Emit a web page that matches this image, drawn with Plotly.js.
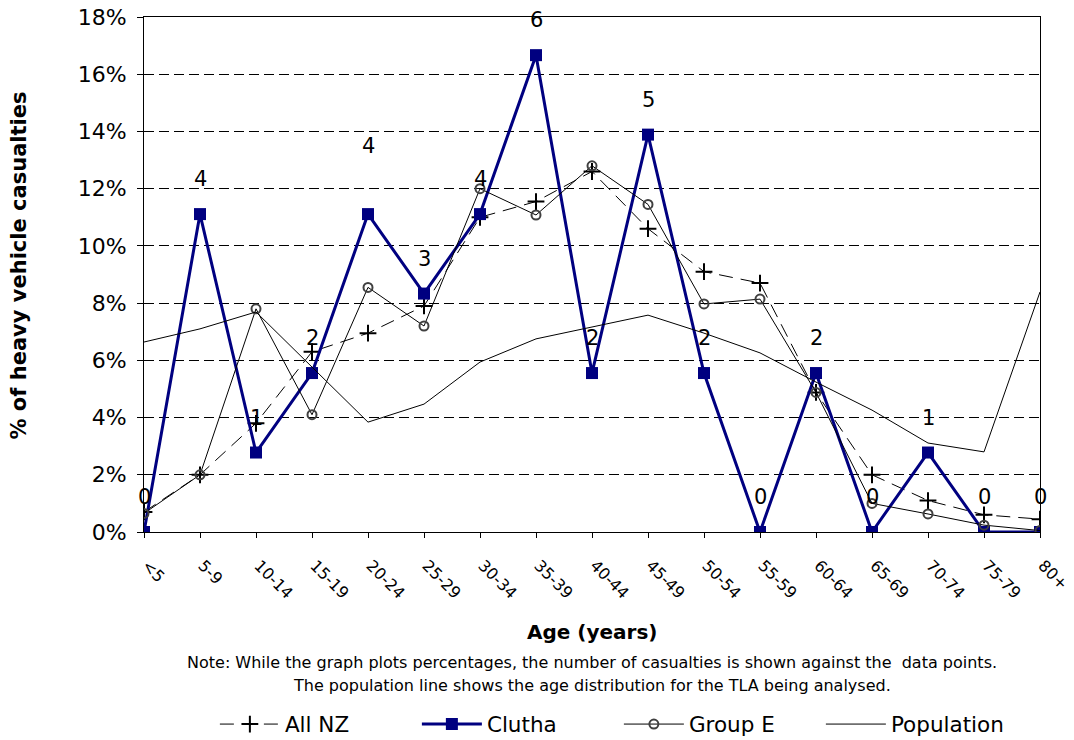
<!DOCTYPE html>
<html>
<head>
<meta charset="utf-8">
<script src="https://cdn.plot.ly/plotly-3.0.1.min.js"></script>
<style>html,body{margin:0;padding:0;background:#fff;overflow:hidden;width:1074px;height:740px;}#chart{width:1074px;height:740px;overflow:hidden;}</style>
</head>
<body>
<div id="chart"></div>
<script>
const ageGroups = ["<5","5-9","10-14","15-19","20-24","25-29","30-34","35-39","40-44","45-49","50-54","55-59","60-64","65-69","70-74","75-79","80+"];
const allNZ =      [0.007,0.020,0.038,0.063,0.0695,0.079,0.110,0.1155,0.126,0.106,0.091,0.087,0.0488,0.020,0.011,0.006,0.0045];
const cluthaCounts = [0,4,1,2,4,3,4,6,2,5,2,0,2,0,1,0,0];
const groupE =     [0.0065,0.020,0.078,0.041,0.0855,0.072,0.120,0.1108,0.128,0.1145,0.0797,0.0814,0.0488,0.010,0.0063,0.0024,0.0005];
const population = [0.0664,0.0710,0.0769,0.0577,0.0384,0.0447,0.0594,0.0675,0.0717,0.0758,0.0695,0.0626,0.0524,0.0426,0.0311,0.0280,0.0839];

const cluthaTotal = cluthaCounts.reduce((a,b)=>a+b,0);
const clutha = cluthaCounts.map(c => c / cluthaTotal);
const xIdx = ageGroups.map((_, i) => i);
const FONT = "DejaVu Sans, Arial, sans-serif";

const traces = [
  {name:"All NZ", x:xIdx, y:allNZ, mode:"lines+markers",
   line:{color:"#000", width:1, dash:"14px,8px"},
   marker:{symbol:"cross-thin", size:12, line:{color:"#000", width:2}}},
  {name:"Clutha", x:xIdx, y:clutha, mode:"lines+markers",
   line:{color:"#000080", width:3},
   marker:{symbol:"square", size:12, color:"#000080"}},
  {name:"Group E", x:xIdx, y:groupE, mode:"lines+markers",
   line:{color:"#000", width:1},
   marker:{symbol:"circle-open", size:9, color:"#404040", line:{color:"#404040", width:2}}},
  {name:"Population", x:xIdx, y:population, mode:"lines",
   line:{color:"#000", width:1}}
];

const annotations = clutha.map((v, i) => ({
  x: i, y: v, xref:"x", yref:"y", text: String(cluthaCounts[i]),
  showarrow:false, yanchor:"middle", yshift: (i === 4 ? 68 : 35),
  font:{family:FONT, size:21, color:"#000"}
}));
annotations.push({
  xref:"paper", yref:"paper", x:0.5, y:-0.253, xanchor:"center", yanchor:"middle",
  text:"Note: While the graph plots percentages, the number of casualties is shown against the  data points.",
  showarrow:false, font:{family:FONT, size:16, color:"#000"}
});
annotations.push({
  xref:"paper", yref:"paper", x:0.5, y:-0.299, xanchor:"center", yanchor:"middle",
  text:"The population line shows the age distribution for the TLA being analysed.",
  showarrow:false, font:{family:FONT, size:16, color:"#000"}
});
annotations.push({
  xref:"paper", yref:"paper", x:0.5, y:-0.194, xanchor:"center", yanchor:"middle",
  text:"<b>Age (years)</b>",
  showarrow:false, font:{family:FONT, size:20, color:"#000"}
});
annotations.push({
  xref:"paper", yref:"paper", x:0, y:0.5, xshift:-126, yshift:9, xanchor:"center", yanchor:"middle",
  text:"<b>% of heavy vehicle casualties</b>", textangle:-90,
  showarrow:false, font:{family:FONT, size:21, color:"#000"}
});

const layout = {
  width:1074, height:740,
  margin:{l:144, r:34, t:17, b:208, autoexpand:false},
  paper_bgcolor:"#fff", plot_bgcolor:"#fff",
  font:{family:FONT, color:"#000"},
  showlegend:true,
  legend:{orientation:"h", x:0.53, xanchor:"center", y:-0.373, yanchor:"middle",
          font:{size:21.5, color:"#000"}, traceorder:"normal",
          entrywidth:127, entrywidthmode:"pixels", itemwidth:60},
  xaxis:{
    range:[0,16], tickmode:"array", tickvals:xIdx, ticktext:ageGroups,
    tickangle:45, ticks:"outside", ticklen:5, tickcolor:"#000",
    ticklabelstandoff:12, ticklabelshift:3, ticklabeloverflow:"allow",
    showline:true, linecolor:"#000", linewidth:1, mirror:true,
    showgrid:false, zeroline:false, automargin:false,
    tickfont:{size:16, color:"#000"}
  },
  yaxis:{
    range:[0,0.18], dtick:0.02, tickformat:".0%",
    ticks:"outside", ticklen:6, tickcolor:"#000", ticklabelstandoff:6,
    showline:true, linecolor:"#000", linewidth:1, mirror:true,
    showgrid:true, gridcolor:"#000", griddash:"10px,5px", gridwidth:1,
    zeroline:false, automargin:false,
    tickfont:{size:22, color:"#000"}
  },
  annotations: annotations
};

Plotly.newPlot("chart", traces, layout, {displayModeBar:false, staticPlot:true});
</script>
</body>
</html>
